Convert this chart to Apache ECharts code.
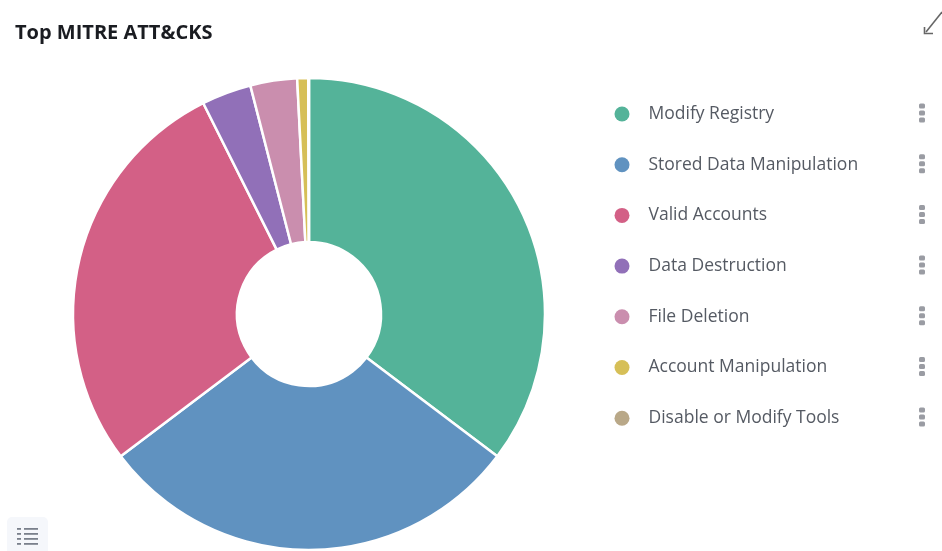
<!DOCTYPE html>
<html style="height: 100%">
<head>
<meta charset="utf-8">
<script src="https://cdn.jsdelivr.net/npm/echarts@6/dist/echarts.min.js"></script>
</head>
<body style="height: 100%; margin: 0; background: #fff">
<div id="main" style="width: 942px; height: 551px"></div>
<script type="text/javascript">
var categories = ['Modify Registry', 'Stored Data Manipulation', 'Valid Accounts', 'Data Destruction', 'File Deletion', 'Account Manipulation', 'Disable or Modify Tools'];
var values = [35.3, 29.4, 27.9, 3.4, 3.2, 0.75, 0.05];
var colors = ['#54b399', '#6092c0', '#d36086', '#9170b8', '#ca8eae', '#d6bf57', '#b9a888'];

var myChart = echarts.init(document.getElementById('main'));

// three dots at the end of every legend row
var rowY = [113, 163.7, 214.4, 265, 315.7, 366.4, 417];
var kebabs = [];
rowY.forEach(function (y) {
    [-7, 0, 7].forEach(function (d) {
        kebabs.push({
            type: 'rect',
            shape: { x: 919, y: y + d - 2.5, width: 6, height: 5, r: 1.5 },
            style: { fill: '#9a9ca3' }
        });
    });
});

// list icon in the bottom left button
var listIcon = [{
    type: 'rect',
    shape: { x: 7, y: 517, width: 41, height: 40, r: 5 },
    style: { fill: '#f5f7fb' }
}];
[529, 534, 539, 544].forEach(function (y) {
    listIcon.push({ type: 'rect', shape: { x: 17, y: y - 1, width: 4, height: 1.8 }, style: { fill: '#7a808c' } });
    listIcon.push({ type: 'rect', shape: { x: 24, y: y - 1, width: 14, height: 1.8 }, style: { fill: '#7a808c' } });
});

// expand arrow in the corner
var expandIcon = [{
    type: 'polyline',
    shape: { points: [[926, 32], [942, 12]] },
    style: { stroke: '#666', lineWidth: 1.6, fill: null }
}, {
    type: 'polyline',
    shape: { points: [[924.5, 27], [924.5, 33.5], [933, 33.5]] },
    style: { stroke: '#666', lineWidth: 1.6, fill: null }
}];

var option = {
    animation: false,
    color: colors,
    title: {
        text: 'Top MITRE ATT&CKS',
        left: 15,
        top: 23,
        padding: 0,
        textStyle: { fontFamily: 'Open Sans', fontSize: 20, fontWeight: 'bold', color: '#1a1c21' }
    },
    legend: {
        orient: 'vertical',
        left: 614.5,
        top: 105,
        padding: 0,
        icon: 'circle',
        itemWidth: 15,
        itemHeight: 15,
        itemGap: 32.7,
        data: categories,
        itemStyle: { borderWidth: 0 },
        textStyle: { fontFamily: 'Open Sans', fontSize: 17.5, lineHeight: 15, color: '#555a63', padding: [0, 0, 0, 14] }
    },
    graphic: kebabs.concat(listIcon, expandIcon),
    series: [{
        type: 'pie',
        center: [309, 314],
        radius: [72, 236],
        startAngle: 90,
        clockwise: true,
        label: { show: false },
        labelLine: { show: false },
        itemStyle: { borderColor: '#fff', borderWidth: 2.5 },
        data: categories.map(function (name, i) {
            return { name: name, value: values[i] };
        })
    }]
};
myChart.setOption(option);
</script>
</body>
</html>
